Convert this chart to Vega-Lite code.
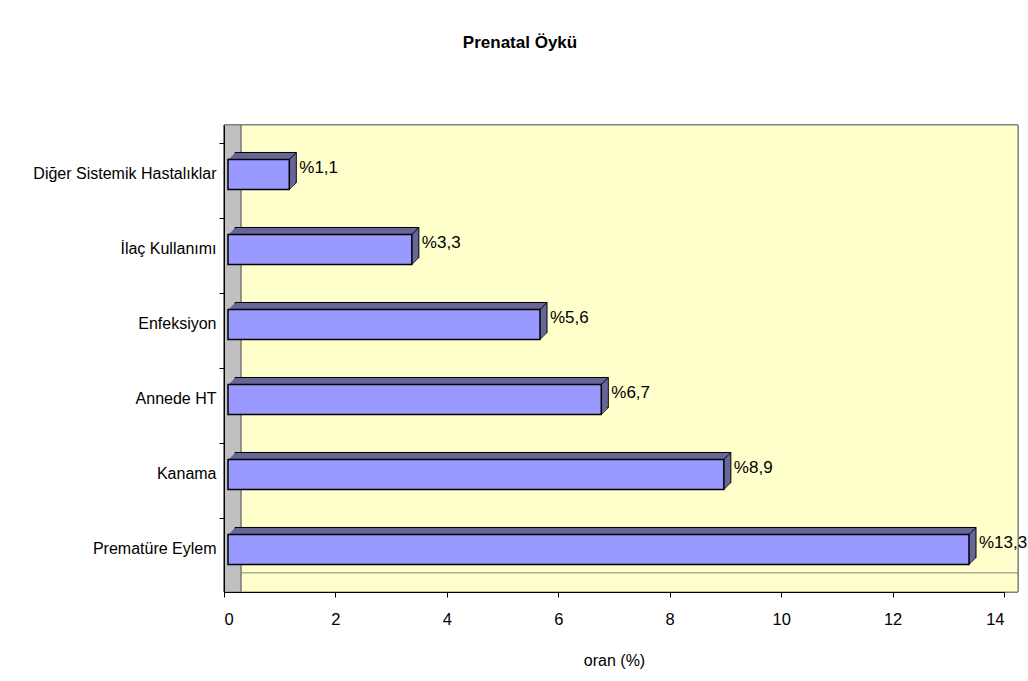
{
  "$schema": "https://vega.github.io/schema/vega-lite/v6.json",
  "autosize": {"type": "none"},
  "width": 780,
  "height": 467,
  "padding": {"left": 224, "top": 125, "right": 24, "bottom": 89},
  "background": "white",
  "title": {
    "text": "Prenatal Öykü",
    "font": "'Liberation Sans', Arial, sans-serif",
    "fontSize": 17,
    "fontWeight": "bold",
    "color": "black",
    "anchor": "middle",
    "frame": "group",
    "dx": -94,
    "offset": 73
  },
  "data": {
    "values": [
      {"durum": "Diğer Sistemik Hastalıklar", "oran": 1.1},
      {"durum": "İlaç Kullanımı", "oran": 3.3},
      {"durum": "Enfeksiyon", "oran": 5.6},
      {"durum": "Annede HT", "oran": 6.7},
      {"durum": "Kanama", "oran": 8.9},
      {"durum": "Prematüre Eylem", "oran": 13.3}
    ]
  },
  "transform": [
    {"calculate": "'%' + replace(format(datum.oran, '.1f'), '.', ',')", "as": "etiket"}
  ],
  "layer": [
    {
      "mark": {"type": "rect", "fill": "#FFFFCC", "stroke": "#808080", "strokeWidth": 1},
      "encoding": {
        "x": {"datum": 0.3, "type": "quantitative", "scale": {"domain": [0, 14], "nice": false}},
        "x2": {"datum": 14.25}
      }
    },
    {
      "mark": {"type": "rect", "fill": "#C0C0C0", "stroke": "#808080", "strokeWidth": 1},
      "encoding": {
        "x": {"datum": 0, "type": "quantitative"},
        "x2": {"datum": 0.3}
      }
    },
    {
      "transform": [{"filter": "datum.durum === 'Prematüre Eylem'"}],
      "mark": {"type": "rule", "color": "#808080", "strokeWidth": 1},
      "encoding": {
        "y": {"field": "durum", "type": "nominal", "sort": null, "bandPosition": 1.28},
        "x": {"datum": 0.3, "type": "quantitative"},
        "x2": {"datum": 14.25}
      }
    },
    {
      "mark": {"type": "bar", "fill": "#666699", "stroke": "black", "strokeWidth": 1, "xOffset": 11, "x2Offset": 11, "yOffset": -7, "y2Offset": -7},
      "encoding": {
        "y": {
          "field": "durum",
          "type": "nominal",
          "sort": null,
          "scale": {
            "domain": ["Diğer Sistemik Hastalıklar", "İlaç Kullanımı", "Enfeksiyon", "Annede HT", "Kanama", "Prematüre Eylem"],
            "paddingInner": 0.6,
            "paddingOuter": 0.4133,
            "align": 0.556
          },
          "axis": {
            "title": null,
            "grid": false,
            "zindex": 1,
            "domainColor": "black",
            "tickColor": "black",
            "tickSize": 5,
            "bandPosition": -0.52,
            "labelFont": "'Liberation Sans', Arial, sans-serif",
            "labelFontSize": 16,
            "labelLimit": 0,
            "labelColor": "black",
            "labelPadding": 3
          }
        },
        "x": {
          "field": "oran",
          "type": "quantitative",
          "axis": {
            "title": "oran (%)",
            "values": [0, 2, 4, 6, 8, 10, 12, 14],
            "format": "d",
            "grid": false,
            "zindex": 1,
            "domainColor": "black",
            "tickColor": "black",
            "tickSize": 5,
            "labelFont": "'Liberation Sans', Arial, sans-serif",
            "labelFontSize": 16.5,
            "labelColor": "black",
            "labelPadding": 14,
            "titleFont": "'Liberation Sans', Arial, sans-serif",
            "titleFontSize": 16,
            "titleFontWeight": "normal",
            "titleColor": "black",
            "titlePadding": 25
          }
        }
      }
    },
    {
      "mark": {"type": "bar", "fill": "#666699", "xOffset": 10, "x2Offset": 10, "yOffset": -6, "y2Offset": -6},
      "encoding": {"y": {"field": "durum", "type": "nominal", "sort": null}, "x": {"field": "oran", "type": "quantitative"}}
    },
    {
      "mark": {"type": "bar", "fill": "#666699", "xOffset": 9, "x2Offset": 9, "yOffset": -5, "y2Offset": -5},
      "encoding": {"y": {"field": "durum", "type": "nominal", "sort": null}, "x": {"field": "oran", "type": "quantitative"}}
    },
    {
      "mark": {"type": "bar", "fill": "#666699", "xOffset": 8, "x2Offset": 8, "yOffset": -4, "y2Offset": -4},
      "encoding": {"y": {"field": "durum", "type": "nominal", "sort": null}, "x": {"field": "oran", "type": "quantitative"}}
    },
    {
      "mark": {"type": "bar", "fill": "#666699", "xOffset": 7, "x2Offset": 7, "yOffset": -3, "y2Offset": -3},
      "encoding": {"y": {"field": "durum", "type": "nominal", "sort": null}, "x": {"field": "oran", "type": "quantitative"}}
    },
    {
      "mark": {"type": "bar", "fill": "#666699", "xOffset": 6, "x2Offset": 6, "yOffset": -2, "y2Offset": -2},
      "encoding": {"y": {"field": "durum", "type": "nominal", "sort": null}, "x": {"field": "oran", "type": "quantitative"}}
    },
    {
      "mark": {"type": "bar", "fill": "#666699", "xOffset": 5, "x2Offset": 5, "yOffset": -1, "y2Offset": -1},
      "encoding": {"y": {"field": "durum", "type": "nominal", "sort": null}, "x": {"field": "oran", "type": "quantitative"}}
    },
    {
      "mark": {"type": "rule", "color": "black", "strokeWidth": 1, "xOffset": 4, "x2Offset": 11, "y2Offset": -7},
      "encoding": {
        "y": {"field": "durum", "type": "nominal", "sort": null, "bandPosition": 0},
        "y2": {"field": "durum", "bandPosition": 0},
        "x": {"field": "oran", "type": "quantitative"},
        "x2": {"field": "oran"}
      }
    },
    {
      "mark": {"type": "rule", "color": "black", "strokeWidth": 1, "xOffset": 4, "x2Offset": 11, "y2Offset": -7},
      "encoding": {
        "y": {"field": "durum", "type": "nominal", "sort": null, "bandPosition": 1},
        "y2": {"field": "durum", "bandPosition": 1},
        "x": {"field": "oran", "type": "quantitative"},
        "x2": {"field": "oran"}
      }
    },
    {
      "mark": {"type": "bar", "fill": "#9999FF", "stroke": "black", "strokeWidth": 1.5, "xOffset": 4, "x2Offset": 4},
      "encoding": {"y": {"field": "durum", "type": "nominal", "sort": null}, "x": {"field": "oran", "type": "quantitative"}}
    },
    {
      "mark": {"type": "text", "align": "left", "baseline": "middle", "dx": 14, "dy": -6, "font": "'Liberation Sans', Arial, sans-serif", "fontSize": 17, "color": "black"},
      "encoding": {
        "y": {"field": "durum", "type": "nominal", "sort": null},
        "x": {"field": "oran", "type": "quantitative"},
        "text": {"field": "etiket"}
      }
    }
  ],
  "config": {"view": {"stroke": null}}
}
